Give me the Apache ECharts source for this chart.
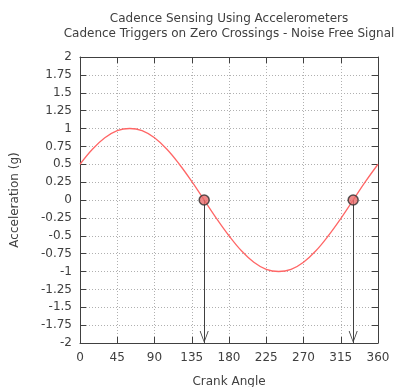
<!DOCTYPE html>
<html>
<head>
<meta charset="utf-8">
<script src="https://cdn.jsdelivr.net/npm/echarts@6/dist/echarts.min.js"></script>
<style>
  html, body { margin: 0; padding: 0; background: #fff; }
  #chart { width: 402px; height: 387px; }
</style>
</head>
<body>
<div id="chart"></div>
<script>
// crank angle (deg) and acceleration (g)
const angles = [0, 15, 30, 45, 60, 75, 90, 105, 120, 135, 150, 165, 180,
  195, 210, 225, 240, 255, 270, 285, 300, 315, 330, 345, 360];
const accel = [0.5, 0.71, 0.87, 0.97, 1, 0.97, 0.87, 0.71, 0.5, 0.26, 0, -0.26, -0.5,
  -0.71, -0.87, -0.97, -1, -0.97, -0.87, -0.71, -0.5, -0.26, 0, 0.26, 0.5];
// zero crossings that fire a cadence trigger
const triggerAngles = [150, 330];
const triggerLevel = 0;
const arrowEnd = -2;

const textColor = "#404040";
const font = "DejaVu Sans";

let chartDom = document.getElementById("chart");
let chart = echarts.init(chartDom, null, { renderer: "canvas" });

const tickStyle = { show: true, inside: true, length: 6, lineStyle: { color: "#404040", width: 1 } };
const lineStyle = { show: true, onZero: false, lineStyle: { color: "#404040", width: 1 } };

// open "V" arrow head; the tiny subpath above keeps the tip at the symbol centre
const arrowHead = "path://M5,-12L5.001,-12L5,-11.999Z M5,0L0,12L1,12L5,2L9,12L10,12Z";

let option = {
  animation: false,
  textStyle: { fontFamily: font },
  title: {
    text: "Cadence Sensing Using Accelerometers\nCadence Triggers on Zero Crossings - Noise Free Signal",
    left: 229,
    top: 11,
    padding: 0,
    textAlign: "center",
    textStyle: {
      fontFamily: font,
      fontSize: 12,
      fontWeight: "normal",
      color: textColor,
      lineHeight: 15,
    },
  },
  grid: { left: 80, right: 24, top: 57, bottom: 44, outerBoundsMode: "none" },
  xAxis: [
    {
      type: "value",
      min: 0,
      max: 360,
      interval: 45,
      name: "Crank Angle",
      nameLocation: "middle",
      nameGap: 33,
      nameTextStyle: { fontSize: 12, color: textColor, fontFamily: font },
      axisLine: lineStyle,
      axisTick: tickStyle,
      axisLabel: { fontSize: 12, color: textColor, margin: 9, fontFamily: font },
      splitLine: { show: true, lineStyle: { color: "#b0b0b0", type: [1, 2], width: 1 } },
    },
    {
      type: "value",
      position: "top",
      min: 0,
      max: 360,
      interval: 45,
      axisLine: lineStyle,
      axisTick: tickStyle,
      axisLabel: { show: false },
      splitLine: { show: false },
    },
  ],
  yAxis: [
    {
      type: "value",
      min: -2,
      max: 2,
      interval: 0.25,
      name: "Acceleration (g)",
      nameLocation: "middle",
      nameGap: 59,
      nameTextStyle: { fontSize: 12, color: textColor, fontFamily: font },
      axisLine: lineStyle,
      axisTick: tickStyle,
      axisLabel: { fontSize: 12, color: textColor, margin: 8, fontFamily: font },
      splitLine: { show: true, lineStyle: { color: "#b0b0b0", type: [1, 2], width: 1 } },
    },
    {
      type: "value",
      position: "right",
      min: -2,
      max: 2,
      interval: 0.25,
      axisLine: lineStyle,
      axisTick: tickStyle,
      axisLabel: { show: false },
      splitLine: { show: false },
    },
  ],
  series: [
    {
      type: "line",
      data: angles.map((a, i) => [a, accel[i]]),
      smooth: 0.4,
      showSymbol: false,
      lineStyle: { color: "#ff6666", width: 1.3 },
      z: 3,
      markLine: {
        silent: true,
        symbol: ["none", arrowHead],
        symbolSize: [9, 24],
        label: { show: false },
        lineStyle: { color: "#404040", width: 1, type: "solid" },
        itemStyle: { color: "#404040" },
        data: triggerAngles.map((a) => [
          { coord: [a, triggerLevel] },
          { coord: [a, arrowEnd] },
        ]),
      },
    },
    {
      type: "scatter",
      data: triggerAngles.map((a) => [a, triggerLevel]),
      symbol: "circle",
      symbolSize: 10,
      itemStyle: { color: "#e86a6a", borderColor: "#303030", borderWidth: 1.5 },
      z: 5,
    },
  ],
};

option && chart.setOption(option);
</script>
</body>
</html>
